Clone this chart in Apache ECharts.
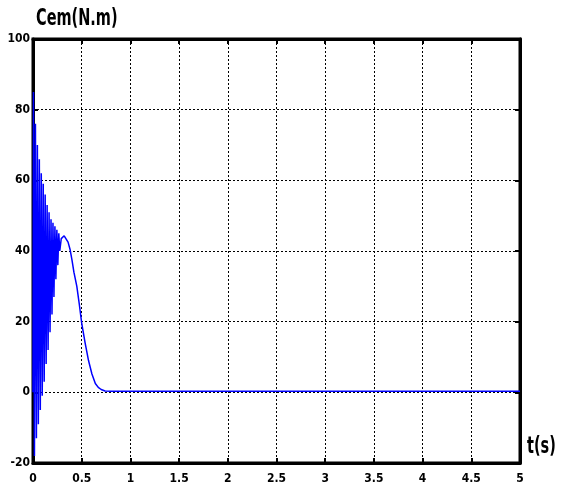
<!DOCTYPE html>
<html><head><meta charset="utf-8">
<script src="https://cdn.jsdelivr.net/npm/echarts@6/dist/echarts.min.js"></script>
<style>html,body{margin:0;padding:0;background:#fff}#c{width:565px;height:495px}</style>
</head><body><div id="c"></div>
<script>
const timeS = [0, 0.005, 0.015, 0.025, 0.035, 0.045, 0.055, 0.065, 0.075, 0.085, 0.095, 0.105, 0.115, 0.125, 0.135, 0.145, 0.155, 0.165, 0.175, 0.185, 0.195, 0.205, 0.215, 0.225, 0.235, 0.245, 0.255, 0.265, 0.275, 0.29, 0.30, 0.32, 0.34, 0.36, 0.38, 0.40, 0.42, 0.45, 0.475, 0.50, 0.535, 0.57, 0.605, 0.64, 0.67, 0.70, 0.74, 0.8, 5];
const torque = [0, 85, -18, 76, -13, 70, -9, 66, -5, 62, -1, 59, 3, 56, 8, 53, 12, 51, 17, 49, 22, 48, 27, 47, 32, 46, 36, 45, 40, 43.5, 44, 44.3, 43.8, 42.5, 40.5, 37.5, 34, 30, 25, 19.6, 14, 9, 5.2, 2.5, 1.4, 0.8, 0.4, 0.3, 0.3];
const xTicks = ['0','0.5','1','1.5','2','2.5','3','3.5','4','4.5','5'];
const yTicks = ['-20','0','20','40','60','80','100'];
const titleText = 'Cem(N.m)';
const xName = 't(s)';

const FF = "'DejaVu Sans Condensed','Liberation Sans Narrow','Liberation Sans',Arial,sans-serif";
const chart = echarts.init(document.getElementById('c'));
const data = timeS.map((t,i)=>[t, torque[i]]);
const lab = {fontFamily:FF, fontWeight:'bold', color:'#000', fontSize:12};
chart.setOption({
  animation:false,
  backgroundColor:'#fff',
  grid:{left:33, right:45, top:39, bottom:32, show:true, borderColor:'#000', borderWidth:3},
  graphic:[
    {type:'text', x:36, y:8, scaleX:0.7, style:{text:titleText, font:"bold 23px 'DejaVu Sans Condensed'", fill:'#000', textVerticalAlign:'top'}},
    {type:'text', x:527, y:436, scaleX:0.7, style:{text:xName, font:"bold 23px 'DejaVu Sans Condensed'", fill:'#000', textVerticalAlign:'top'}}
  ],
  xAxis:[{type:'value', min:0, max:5, interval:0.5,
    axisLine:{onZero:false, lineStyle:{color:'#000', width:3}},
    axisTick:{inside:true, length:5, lineStyle:{color:'#000', width:2}},
    axisLabel:Object.assign({margin:10, formatter:v=>xTicks[Math.round(v*2)]}, lab),
    splitLine:{show:true, lineStyle:{color:'#000', type:[2,2], width:1}}},
    {type:'value', position:'top', min:0, max:5, interval:0.5,
    axisLine:{onZero:false, lineStyle:{color:'#000', width:3}},
    axisTick:{inside:true, length:5, lineStyle:{color:'#000', width:2}},
    axisLabel:{show:false}, splitLine:{show:false}}],
  yAxis:[{type:'value', min:-20, max:100, interval:20,
    axisLine:{onZero:false, lineStyle:{color:'#000', width:3}},
    axisTick:{inside:true, length:5, lineStyle:{color:'#000', width:2}},
    axisLabel:Object.assign({margin:3, formatter:v=>yTicks[Math.round((v+20)/20)]}, lab),
    splitLine:{show:true, lineStyle:{color:'#000', type:[2,2], width:1}}},
    {type:'value', position:'right', min:-20, max:100, interval:20,
    axisLine:{onZero:false, lineStyle:{color:'#000', width:3}},
    axisTick:{inside:true, length:5, lineStyle:{color:'#000', width:2}},
    axisLabel:{show:false}, splitLine:{show:false}}],
  series:[{type:'line', data:data, showSymbol:false, lineStyle:{color:'#0000ff', width:1.5}, z:3}]
});
</script></body></html>
